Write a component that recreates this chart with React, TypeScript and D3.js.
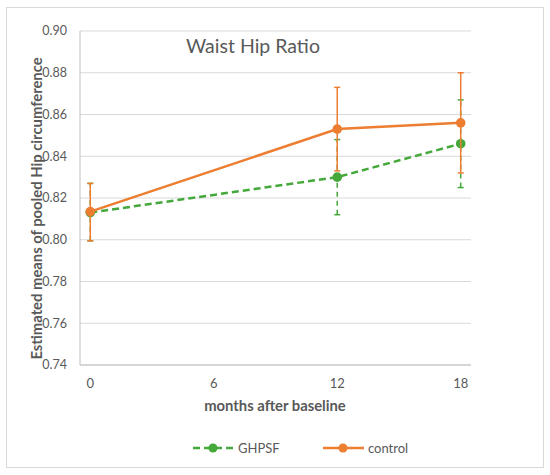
import React from "react"
import * as d3 from "d3"

const months = [0, 12, 18]
const ghpsfMean = [0.813, 0.830, 0.846]
const ghpsfLow = [0.7995, 0.812, 0.825]
const ghpsfHigh = [0.827, 0.848, 0.867]
const controlMean = [0.8135, 0.853, 0.856]
const controlLow = [0.7995, 0.833, 0.832]
const controlHigh = [0.827, 0.873, 0.880]
const xTicks = [0, 6, 12, 18]
const yTicks = [0.74, 0.76, 0.78, 0.8, 0.82, 0.84, 0.86, 0.88, 0.9]

const W = 550
const H = 475
const PLOT = { left: 80, right: 471, top: 31, bottom: 365 }
const FONT = "Lato, 'Open Sans', sans-serif"
const TEXT = "#595959"
const GREEN = "#45a83a"
const ORANGE = "#ed7d31"

interface Series {
  name: string
  mean: number[]
  low: number[]
  high: number[]
  color: string
  dash?: string
}

const series: Series[] = [
  { name: "GHPSF", mean: ghpsfMean, low: ghpsfLow, high: ghpsfHigh, color: GREEN, dash: "7,4" },
  { name: "control", mean: controlMean, low: controlLow, high: controlHigh, color: ORANGE },
]

export default function App() {
  const x = d3.scaleLinear().domain([-0.5, 18.5]).range([PLOT.left, PLOT.right])
  const y = d3.scaleLinear().domain([0.74, 0.9]).range([PLOT.bottom, PLOT.top])

  const line = d3
    .line<number>()
    .x((_, i) => x(months[i]))
    .y((d) => y(d))

  return (
    <svg
      width={W}
      height={H}
      style={{ position: "absolute", left: 0, top: 0, background: "#fff" }}
      fontFamily={FONT}
    >
      <rect x={6.5} y={7.5} width={537} height={460} fill="#fff" stroke="#d9d9d9" />

      {/* Grid */}
      {yTicks.map((t) => (
        <line
          key={t}
          x1={PLOT.left}
          x2={PLOT.right}
          y1={y(t)}
          y2={y(t)}
          stroke="#d9d9d9"
          strokeWidth={1}
        />
      ))}
      <line x1={PLOT.left} x2={PLOT.left} y1={PLOT.top} y2={PLOT.bottom} stroke="#bfbfbf" />
      <line x1={PLOT.left} x2={PLOT.right} y1={PLOT.bottom} y2={PLOT.bottom} stroke="#bfbfbf" />

      {/* Y ticks */}
      {yTicks.map((t) => (
        <text
          key={t}
          x={67}
          y={y(t)}
          dy="0.35em"
          textAnchor="end"
          fontSize={12.5}
          fill={TEXT}
        >
          {d3.format(".2f")(t)}
        </text>
      ))}

      {/* X ticks */}
      {xTicks.map((t) => (
        <text key={t} x={x(t)} y={388} textAnchor="middle" fontSize={13} fill={TEXT}>
          {t}
        </text>
      ))}

      <text x={275} y={411} textAnchor="middle" fontSize={14.8} fontWeight="bold" fill={TEXT}>
        months after baseline
      </text>
      <text
        transform="translate(42,208.5) rotate(-90)"
        textAnchor="middle"
        fontSize={14.8}
        fontWeight="bold"
        fill={TEXT}
      >
        Estimated means of pooled Hip circumference
      </text>
      <text x={186} y={53} fontSize={19.5} fill={TEXT}>
        Waist Hip Ratio
      </text>

      {/* Series */}
      {series.map((s) => (
        <g key={s.name}>
          {months.map((m, i) => (
            <g key={m} stroke={s.color} strokeWidth={1.5}>
              <line x1={x(m)} x2={x(m)} y1={y(s.low[i])} y2={y(s.high[i])} strokeDasharray={s.dash ? "5,4" : undefined} />
              <line x1={x(m) - 3} x2={x(m) + 3} y1={y(s.low[i])} y2={y(s.low[i])} />
              <line x1={x(m) - 3} x2={x(m) + 3} y1={y(s.high[i])} y2={y(s.high[i])} />
            </g>
          ))}
          <path d={line(s.mean) ?? ""} fill="none" stroke={s.color} strokeWidth={2.5} strokeDasharray={s.dash} />
          {months.map((m, i) => (
            <circle key={m} cx={x(m)} cy={y(s.mean[i])} r={4.8} fill={s.color} />
          ))}
        </g>
      ))}

      {/* Legend */}
      <g>
        <line x1={193} x2={235} y1={448} y2={448} stroke={GREEN} strokeWidth={2.5} strokeDasharray="7,4" />
        <circle cx={213} cy={448} r={4.5} fill={GREEN} />
        <text x={238} y={448} dy="0.35em" fontSize={13} fill={TEXT}>GHPSF</text>
        <line x1={323} x2={364} y1={448} y2={448} stroke={ORANGE} strokeWidth={2.5} />
        <circle cx={343} cy={448} r={4.5} fill={ORANGE} />
        <text x={368} y={448} dy="0.35em" fontSize={13} fill={TEXT}>control</text>
      </g>
    </svg>
  )
}
